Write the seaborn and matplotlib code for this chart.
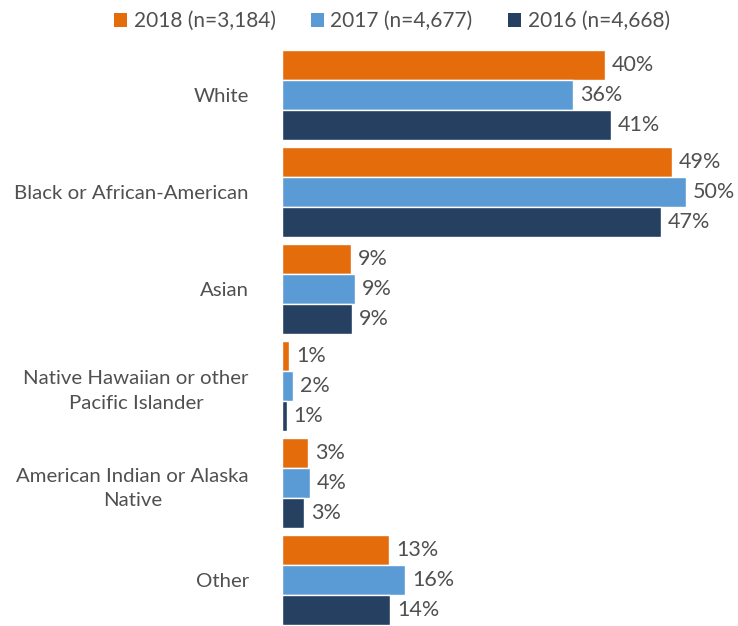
import matplotlib
matplotlib.use("Agg")
import matplotlib.pyplot as plt
import seaborn as sns
import pandas as pd
from matplotlib.patches import Patch

categories = ["White", "Black or African-American", "Asian",
              "Native Hawaiian or other\nPacific Islander",
              "American Indian or Alaska\nNative", "Other"]
series = ["2018 (n=3,184)", "2017 (n=4,677)", "2016 (n=4,668)"]
values_2018 = [40.0, 48.3, 8.5, 0.9, 3.2, 13.3]
values_2017 = [36.1, 50.0, 9.0, 1.4, 3.5, 15.3]
values_2016 = [40.7, 46.9, 8.7, 0.6, 2.7, 13.4]
labels_2018 = ["40%", "49%", "9%", "1%", "3%", "13%"]
labels_2017 = ["36%", "50%", "9%", "2%", "4%", "16%"]
labels_2016 = ["41%", "47%", "9%", "1%", "3%", "14%"]
colors = ["#E46C0A", "#5B9BD5", "#254061"]

rows = []
for s, vals in zip(series, [values_2018, values_2017, values_2016]):
    for c, v in zip(categories, vals):
        rows.append({"category": c, "series": s, "value": v})
df = pd.DataFrame(rows)

sns.set_style("white")
plt.rcParams["font.family"] = ["Lato", "DejaVu Sans"]
text_color = "#505050"

fig = plt.figure(figsize=(7.38, 6.26), dpi=100)
ax = fig.add_axes([282/738, -2.5/626, 452/738, 582/626])
sns.barplot(data=df, y="category", x="value", hue="series", hue_order=series,
            order=categories, palette=colors, width=0.93, orient="h",
            ax=ax, legend=False, saturation=1)

for cont, labs in zip(ax.containers, [labels_2018, labels_2017, labels_2016]):
    ax.bar_label(cont, labels=labs, padding=5, fontsize=15.5, color=text_color)

ax.set_xlim(0, 56)
ax.set_xlabel("")
ax.set_ylabel("")
ax.set_xticks([])
for sp in ax.spines.values():
    sp.set_visible(False)
ax.tick_params(axis="y", length=0, pad=24, labelsize=14.7, labelcolor=text_color)
for t in ax.get_yticklabels():
    t.set_multialignment("center")
    t.set_linespacing(1.55)

handles = [Patch(facecolor=c, edgecolor="none") for c in colors]
fig.legend(handles, series, loc="upper center", bbox_to_anchor=(392/738, 1.012),
           ncol=3, frameon=False, fontsize=15, handlelength=0.63, handleheight=0.63,
           handletextpad=0.3, columnspacing=1.7, labelcolor=text_color)

fig.savefig("out.png", dpi=100)
